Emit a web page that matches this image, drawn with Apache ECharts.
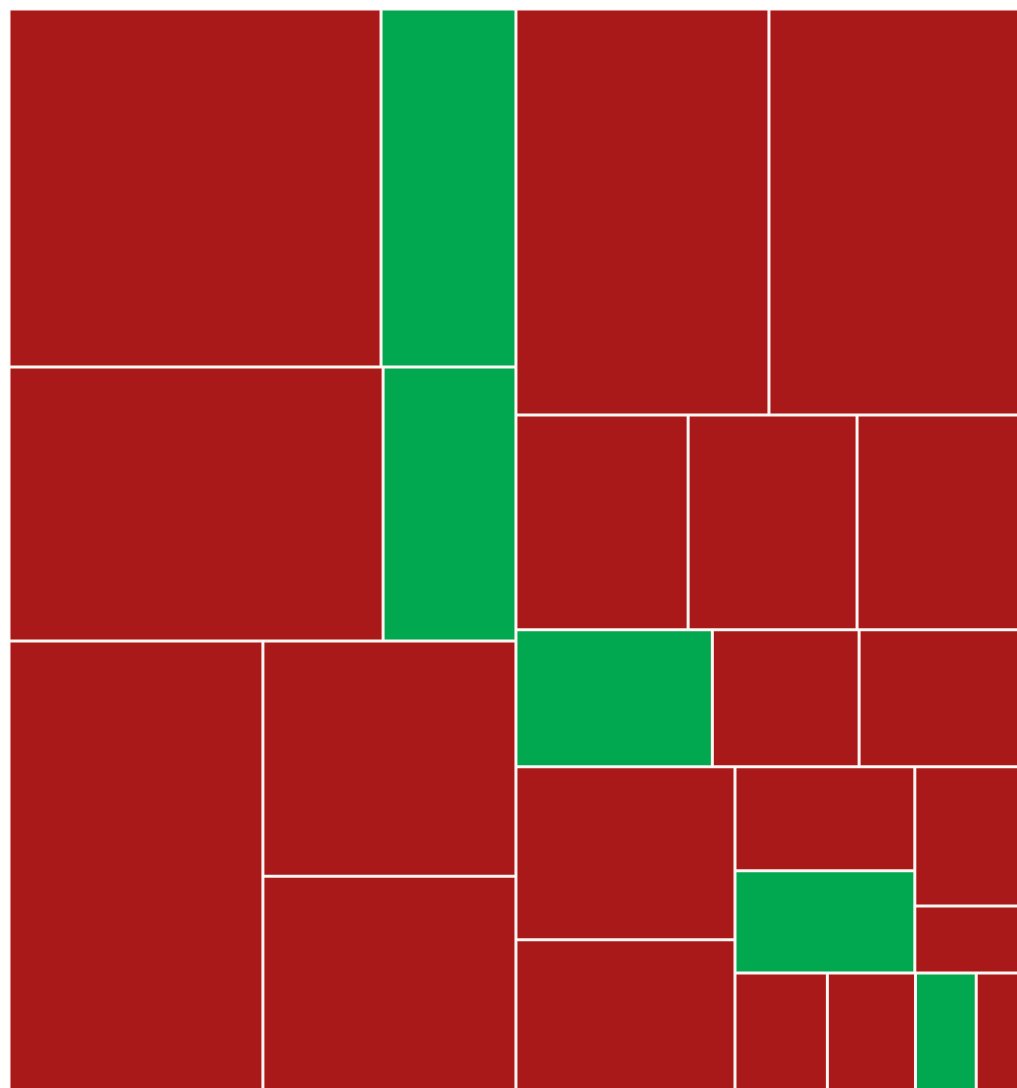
<!DOCTYPE html>
<html>
<head>
<meta charset="utf-8">
<script src="https://cdn.jsdelivr.net/npm/echarts@6/dist/echarts.min.js"></script>
<style>
html,body{margin:0;padding:0;background:#ffffff;}
#chart{width:1017px;height:1088px;}
</style>
</head>
<body>
<div id="chart"></div>
<script>
// Leaf cells (no labels are shown in the reference)
const leafNames = ['L1','L2','L3','L4','L5','L6','L7',
  'R1','R2','R3','R4','R5','R6','R7','R8','R9','R10',
  'R11','R12','R13','R14','R15','R16','R17','R18'];
const leafValues = [1332, 483, 1025, 364, 1140, 595, 541,
  1027, 1015, 370, 363, 348, 269, 201, 219, 379, 329,
  187, 184, 145, 70, 108, 103, 71, 50];
const leafMoves = ['down','up','down','up','down','down','down',
  'down','down','down','down','down','up','down','down','down','down',
  'down','up','down','down','down','down','up','down'];

// Grouping of the cells (nesting of the treemap)
const groupTree = [
  [ ['L1','L2'], [ ['L3','L4'], ['L5', ['L6','L7']] ] ],
  [ ['R1','R2'],
    [ ['R3', ['R4','R5']],
      [ ['R6', ['R7','R8']],
        [ ['R9','R10'],
          [ [ ['R11','R12'], ['R13','R14'] ],
            [ ['R15', ['R16','R17']], 'R18' ] ] ] ] ] ]
];

const moveColors = { down: '#AA1919', up: '#02A84F' };

let gid = 0;
function build(node) {
  if (typeof node === 'string') {
    const i = leafNames.indexOf(node);
    return {
      name: node,
      value: leafValues[i],
      itemStyle: { color: moveColors[leafMoves[i]], borderWidth: 1.5, borderColor: '#fdf6f2' }
    };
  }
  gid++;
  return { name: 'G' + gid, children: node.map(build) };
}

const chart = echarts.init(document.getElementById('chart'), null, { renderer: 'canvas' });
chart.setOption({
  animation: false,
  backgroundColor: '#ffffff',
  series: [{
    type: 'treemap',
    left: 9,
    top: 9,
    width: 1010,
    height: 1081,
    sort: false,
    squareRatio: 1.11,
    roam: false,
    nodeClick: false,
    breadcrumb: { show: false },
    label: { show: false },
    upperLabel: { show: false },
    itemStyle: { borderWidth: 0, gapWidth: 0, borderColor: '#ffffff' },
    data: groupTree.map(build)
  }]
});
</script>
</body>
</html>
